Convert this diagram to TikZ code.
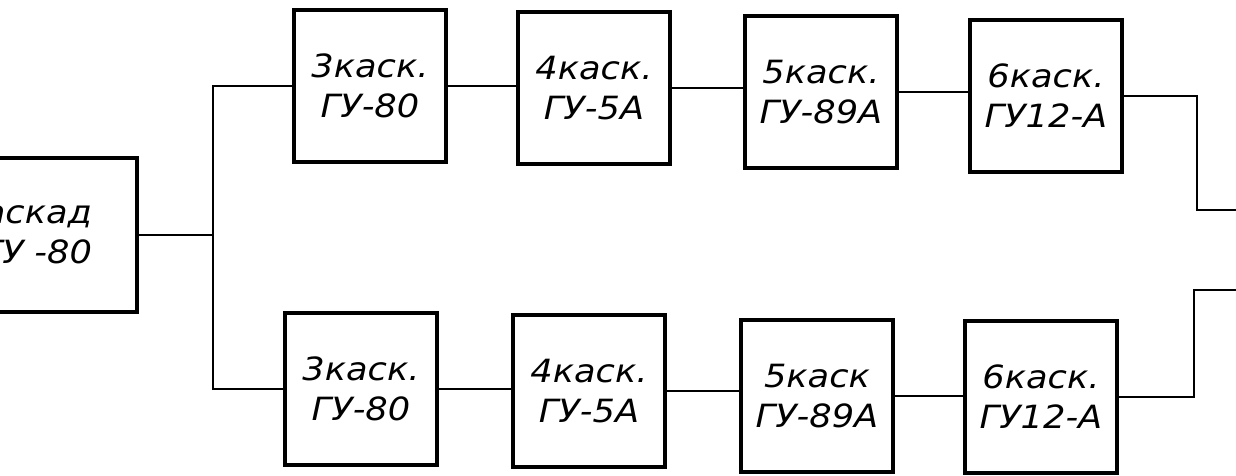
\documentclass[tikz,border=0pt]{standalone}
\usepackage{fontspec}
\newfontfamily\lbl[FakeStretch=1.1]{DejaVu Sans}
\begin{document}
\begin{tikzpicture}[x=1pt,y=-1pt,
  box/.style={draw=black, line width=3.2pt, minimum width=152pt, minimum height=152pt,
    inner sep=0pt, align=center, font=\lbl\itshape\fontsize{32}{40}\selectfont},
  wire/.style={draw=black, line width=2.2pt}]
\useasboundingbox (0,0) rectangle (1236,476);
\clip (0,0) rectangle (1236,476);
% left box (cut by the page edge)
\node[box, minimum width=280pt, minimum height=154pt, text width=190pt, align=right] (L) at (-3,235) {каскад\\ГУ -80\hspace*{10pt}};
% top row
\node[box] (t3) at (370,86) {3каск.\\ГУ-80};
\node[box] (t4) at (594,88) {4каск.\\ГУ-5А};
\node[box] (t5) at (821,92) {5каск.\\ГУ-89А};
\node[box] (t6) at (1046,96) {6каск.\\ГУ12-А};
% bottom row
\node[box] (b3) at (361,389) {3каск.\\ГУ-80};
\node[box] (b4) at (589,391) {4каск.\\ГУ-5А};
\node[box] (b5) at (817,396) {5каск\\ГУ-89А};
\node[box] (b6) at (1041,397) {6каск.\\ГУ12-А};
\coordinate (J) at (213,235);
\coordinate (outT) at (1240,210);
\coordinate (outB) at (1240,290);
\draw[wire] (L.east) -- (J);
\draw[wire] (J) |- (t3.west);
\draw[wire] (J) |- (b3.west);
\draw[wire] (t3.east) -- (t3.east -| t4.west);
\draw[wire] (t4.east) -- (t4.east -| t5.west);
\draw[wire] (t5.east) -- (t5.east -| t6.west);
\draw[wire] (b3.east) -- (b3.east -| b4.west);
\draw[wire] (b4.east) -- (b4.east -| b5.west);
\draw[wire] (b5.east) -- (b5.east -| b6.west);
\draw[wire] (t6.east) -- ++(73,0) |- (outT);
\draw[wire] (b6.east) -- ++(75,0) |- (outB);
\end{tikzpicture}
\end{document}
